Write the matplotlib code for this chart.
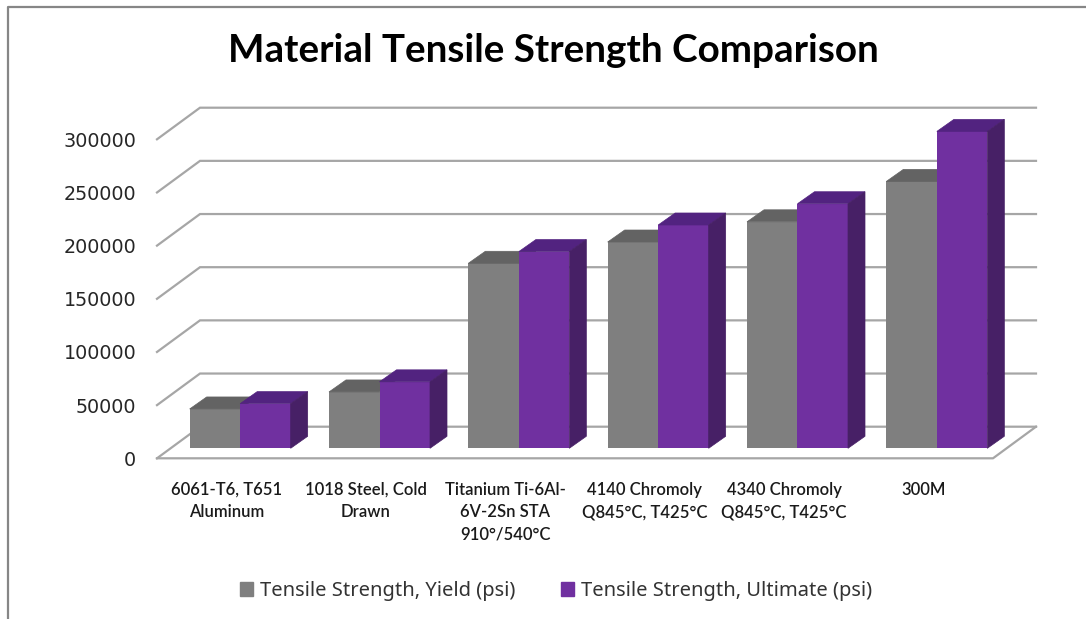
import matplotlib
matplotlib.use("Agg")
import matplotlib.pyplot as plt
from matplotlib.lines import Line2D
from matplotlib.patches import Patch, Polygon

categories = ["6061-T6, T651\nAluminum", "1018 Steel, Cold\nDrawn",
              "Titanium Ti-6Al-\n6V-2Sn STA\n910°/540°C",
              "4140 Chromoly\nQ845°C, T425°C", "4340 Chromoly\nQ845°C, T425°C", "300M"]
yield_psi = [37000, 53000, 174000, 194000, 213000, 251000]
ultimate_psi = [42000, 62500, 185000, 210000, 230000, 298000]
y_ticks = [0, 50000, 100000, 150000, 200000, 250000, 300000]
series_names = ["Tensile Strength, Yield (psi)", "Tensile Strength, Ultimate (psi)"]
title = "Material Tensile Strength Comparison"

W, H = 1086, 619
GRID = "#a6a6a6"
GRAY = ("#7f7f7f", "#636363")
PURPLE = ("#7030a0", "#522380", "#472066")

# front plane of the floor in pixels, everything else hangs off the axes
left, right, floor, top = 157, 993, 458.3, 139.3
fig = plt.figure(figsize=(W / 100, H / 100), dpi=100)
ax = fig.add_axes([left / W, 1 - floor / H, (right - left) / W, (floor - top) / H])
ax.set_xlim(0, 6)
ax.set_ylim(0, 300000)
ax.patch.set_visible(False)
for s in ax.spines.values():
    s.set_visible(False)

x_per_px = 6 / (right - left)
y_per_px = 300000 / (floor - top)


# oblique depth, in data units for a shift given in pixels
def px(dx, dy):
    return dx * x_per_px, dy * y_per_px


def poly(points, color, z):
    ax.add_patch(Polygon(points, closed=True, facecolor=color, edgecolor=color,
                         linewidth=0.5, clip_on=False, zorder=z))


back_x, back_y = px(43, 31.6)
for v in y_ticks:
    ax.plot([0, back_x, 6 + back_x], [v, v + back_y, v + back_y], color=GRID, lw=1.6,
            clip_on=False, zorder=1, solid_joinstyle="miter")
ax.plot([0, 6, 6 + back_x], [0, 0, back_y], color=GRID, lw=1.6, clip_on=False, zorder=1)

bar_w = 50.5 * x_per_px
shift_x, shift_y = px(13.5, 10)
depth_x, depth_y = px(17, 12)
centers = [i + 0.5 + shift_x for i in range(len(categories))]

for i, c in enumerate(centers):
    g, p = yield_psi[i], ultimate_psi[i]
    base = shift_y
    # gray bar sits left of the purple one, so its side face is hidden
    ax.bar(c - bar_w, g, bar_w, bottom=base, align="edge", color=GRAY[0], clip_on=False, zorder=3)
    poly([(c - bar_w, base + g), (c, base + g), (c + depth_x, base + g + depth_y),
          (c - bar_w + depth_x, base + g + depth_y)], GRAY[1], 3)
    ax.bar(c, p, bar_w, bottom=base, align="edge", color=PURPLE[0], clip_on=False, zorder=4)
    poly([(c, base + p), (c + bar_w, base + p), (c + bar_w + depth_x, base + p + depth_y),
          (c + depth_x, base + p + depth_y)], PURPLE[1], 4)
    poly([(c + bar_w, base), (c + bar_w, base + p), (c + bar_w + depth_x, base + p + depth_y),
          (c + bar_w + depth_x, base + depth_y)], PURPLE[2], 4)

ax.set_yticks(y_ticks)
ax.set_yticklabels([str(v) for v in y_ticks], fontsize=13.8, color="#262626")
ax.tick_params(axis="y", length=0, pad=15)
ax.set_xticks([i + 0.5 for i in range(len(categories))])
ax.set_xticklabels(categories, fontsize=12, color="#1a1a1a", family="Lato", fontweight="semibold",
                   linespacing=1.5, va="top")
ax.tick_params(axis="x", length=0, pad=17)

fig.text(553 / W, 1 - 51 / H, title, ha="center", va="center", fontsize=27.8,
         fontweight="bold", family="Lato", color="black")

# chart frame is cut off on the right and bottom of the screenshot
fig.add_artist(Line2D([8 / W, 8 / W, 1], [0, 1 - 7 / H, 1 - 7 / H], color="#868686", lw=1.6))

handles = [Patch(color=GRAY[0]), Patch(color=PURPLE[0])]
fig.legend(handles, series_names, loc="center", bbox_to_anchor=(556 / W, 1 - 591 / H), ncol=2,
           frameon=False, prop={"family": "Noto Sans", "size": 14.45}, labelcolor="#333333",
           handlelength=0.65, handleheight=0.65, handletextpad=0.35, columnspacing=2.3)

fig.savefig("out.png", dpi=100, facecolor="white")
